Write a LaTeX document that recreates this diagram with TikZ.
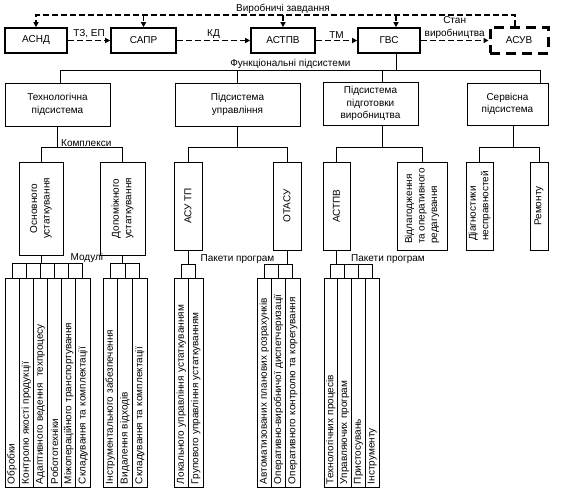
\documentclass[tikz,border=0pt]{standalone}
\usepackage{fontspec}
\setmainfont{Liberation Sans}
\usepackage{tikz}
\usetikzlibrary{
  arrows.meta,
  positioning,
  calc
}
\newcommand{\dfont}{\fontsize{10}{12.5}\selectfont}
\tikzset{
  topbox/.style={draw, line width=1.6pt, minimum height=25pt, inner sep=0pt, font=\dfont},
  asuvbox/.style={topbox, line width=3pt, dash pattern=on 10pt off 6pt},
  subbox/.style={draw, line width=0.9pt, minimum height=43pt, inner sep=0pt, align=center, font=\dfont},
  vbox/.style={draw, line width=0.9pt, rotate=90, inner sep=0pt, minimum width=88pt, align=center, font=\dfont},
  modbox/.style={draw, line width=0.9pt, rotate=90, inner xsep=3pt, inner ysep=0pt,
    text width=203pt, minimum width=209pt, minimum height=#1, align=left, font=\dfont},
  modbox/.default=14.2pt,
  dashline/.style={line width=1.6pt, dash pattern=on 6pt off 3pt},
  flowarr/.style={dashline, -{Triangle[length=5pt,width=5pt]}},
  tree/.style={line width=0.9pt},
  lbl/.style={font=\dfont, inner sep=0.5pt}
}
\begin{document}
\begin{tikzpicture}[x=1pt, y=-1pt]
  \fill[white] (0,0) rectangle (561,489);
  \useasboundingbox (0,0) rectangle (561,489);

  \node[topbox, minimum width=62pt] (asnd) at (36,40.5) {АСНД};
  \node[topbox, minimum width=65pt] (sapr) at (143.5,40.5) {САПР};
  \node[topbox, minimum width=64pt] (astpv) at (283,40.5) {АСТПВ};
  \node[topbox, minimum width=62pt] (gvs) at (389,40.5) {ГВС};
  \node[asuvbox, minimum width=58pt, minimum height=26pt] (asuv) at (519,40.5) {АСУВ};

  \draw[flowarr] (asnd) -- node[lbl, above=1pt] (tzlbl) {ТЗ, ЕП} (sapr);
  \draw[flowarr] (sapr) -- node[lbl, above=1pt] (kdlbl) {КД} (astpv);
  \draw[flowarr] (astpv) -- node[lbl, above=1pt] (tmlbl) {ТМ} (gvs);
  \draw[flowarr] (gvs) -- node[lbl, above=1pt, align=center] (stanlbl) {Стан\\виробництва} (asuv);

  \coordinate (fbL) at (36,15);
  \coordinate (asuvN) at ([xshift=-4pt]asuv.north);
  \coordinate (gvsN) at ([xshift=7pt]gvs.north);
  \coordinate (gvsS) at ([xshift=7pt]gvs.south);
  \draw[flowarr] (asuvN) |- (fbL) -- (asnd.north);
  \draw[flowarr] (sapr.north |- fbL) -- (sapr.north);
  \draw[flowarr] (astpv.north |- fbL) -- (astpv.north);
  \draw[flowarr] (gvsN |- fbL) -- (gvsN);
  \node[lbl, above=1pt] (vzlbl) at (astpv.north |- fbL) {Виробничі завдання};

  \coordinate (busL) at (60,70);
  \coordinate (busR) at (540,70);
  \draw[tree] (gvsS) -- (gvsS |- busL);
  \draw[tree] (busL) -- node[lbl, pos=0.48, above] (funlbl) {Функціональні підсистеми} (busR);

  \node[subbox, minimum width=105pt] (tech) at (57.5,104.5) {Технологічна\\підсистема};
  \node[subbox, minimum width=125pt] (upr) at (237.5,104.5) {Підсистема\\управління};
  \node[subbox, minimum width=95pt] (pidg) at (370.5,103.5) {Підсистема\\підготовки\\виробництва};
  \node[subbox, minimum width=81pt, minimum height=42pt] (serv) at (507.5,104) {Сервісна\\підсистема};

  \coordinate (pidgN) at ([xshift=11.5pt]pidg.north);
  \coordinate (pidgS) at ([xshift=11.5pt]pidg.south);
  \coordinate (servS) at ([xshift=5.5pt]serv.south);
  \draw[tree] (busL) -- (busL |- tech.north);
  \draw[tree] (upr.north |- busL) -- (upr.north);
  \draw[tree] (pidgN |- busL) -- (pidgN);
  \draw[tree] (busR) -- (busR |- serv.north);

  \node[vbox, minimum width=93pt, minimum height=44pt] (osn) at (41,208.5) {Основного\\устаткування};
  \node[vbox, minimum width=93pt, minimum height=45pt] (dop) at (122.5,208.5) {Допоміжного\\устаткування};
  \node[vbox, minimum height=28pt] (asutp) at (188,206) {АСУ ТП};
  \node[vbox, minimum height=28pt] (otasu) at (287,206) {ОТАСУ};
  \node[vbox, minimum height=27pt] (astpvb) at (336.5,206) {АСТПВ};
  \node[vbox, minimum height=50pt, align=left] (vidl) at (422,206) {Відлагодження\\та оперативного\\редагування};
  \node[vbox, minimum height=27pt, align=left] (diag) at (479.5,206) {Діагностики\\несправностей};
  \node[vbox, minimum height=18pt] (rem) at (539,206) {Ремонту};

  \draw[tree] (tech.south) -- ++(0,21) coordinate (techj);
  \draw[tree] (osn.east) |- (techj) -| (dop.east);
  \node[lbl, anchor=south west] (komlbl) at ([xshift=3pt]techj) {Комплекси};
  \draw[tree] (upr.south) -- ++(0,21) coordinate (uprj);
  \draw[tree] (asutp.east) |- (uprj) -| (otasu.east);
  \draw[tree] (pidgS) -- ++(0,22) coordinate (pidgj);
  \draw[tree] (astpvb.east) |- (pidgj) -| (vidl.east);
  \draw[tree] (servS) -- ++(0,22) coordinate (servj);
  \draw[tree] (diag.east) |- (servj) -| (rem.east);

  \foreach \txt [count=\i] in {Обробки, Контролю якості продукції, Адаптивного ведення~ техпроцесу,
      Робототехніки, Міжопераційного транспортування, Складування та комплектації}
    \node[modbox=14.17pt] (om\i) at ({5+14.17*(\i-0.5)},382.5) {\txt};
  \foreach \txt [count=\i] in {Інструментального забезпечення, Видалення відходів, Складування та комплектації}
    \node[modbox=14.67pt] (dm\i) at ({103+14.67*(\i-0.5)},382.5) {\txt};
  \foreach \txt [count=\i] in {Локального управління устаткуванням, Групового управління устаткуванням}
    \node[modbox=14.5pt] (pa\i) at ({174+14.5*(\i-0.5)},382.5) {\txt};
  \foreach \txt [count=\i] in {Автоматизованих планових розрахунків, Оперативно-виробничої диспетчеризації,
      Оперативного контролю та корегування}
    \node[modbox=14.33pt] (po\i) at ({257+14.33*(\i-0.5)},382.5) {\txt};
  \foreach \txt [count=\i] in {Технологічних процесів, Управляючих програм, Пристосувань, Інструменту}
    \node[modbox=13.75pt] (pt\i) at ({324+13.75*(\i-0.5)},382.5) {\txt};

  \draw[tree] (osn.west) -- ++(0,8) coordinate (osnj);
  \draw[tree] (om1.east) |- (osnj) -| (om6.east);
  \foreach \i in {2,...,5}
    \draw[tree] (om\i.east) -- (om\i.east |- osnj);
  \node[lbl, anchor=south west] (modlbl) at ([xshift=29pt]osnj) {Модулі};

  \draw[tree] (dop.west) -- ++(0,8) coordinate (dopj);
  \draw[tree] (dm1.east) |- (dopj) -| (dm3.east);
  \draw[tree] (dm2.east) -- (dm2.east |- dopj);

  \draw[tree] (asutp.west) -- ++(0,14) coordinate (asutpj);
  \draw[tree] (pa1.east) |- (asutpj) -| (pa2.east);
  \draw[tree] (otasu.west) -- ++(0,14) coordinate (otasuj);
  \draw[tree] (po1.east) |- (otasuj) -| (po3.east);
  \draw[tree] (po2.east) -- (po2.east |- otasuj);
  \node[lbl, above] (pak1lbl) at ($(asutpj)!0.5!(otasuj)$) {Пакети програм};

  \draw[tree] (astpvb.west) -- ++(0,14) coordinate (astpvj);
  \draw[tree] (pt1.east) |- (astpvj) -| (pt4.east);
  \foreach \i in {2,3}
    \draw[tree] (pt\i.east) -- (pt\i.east |- astpvj);
  \node[lbl, anchor=south west] (pak2lbl) at ([xshift=14pt]astpvj) {Пакети програм};
\end{tikzpicture}
\end{document}
